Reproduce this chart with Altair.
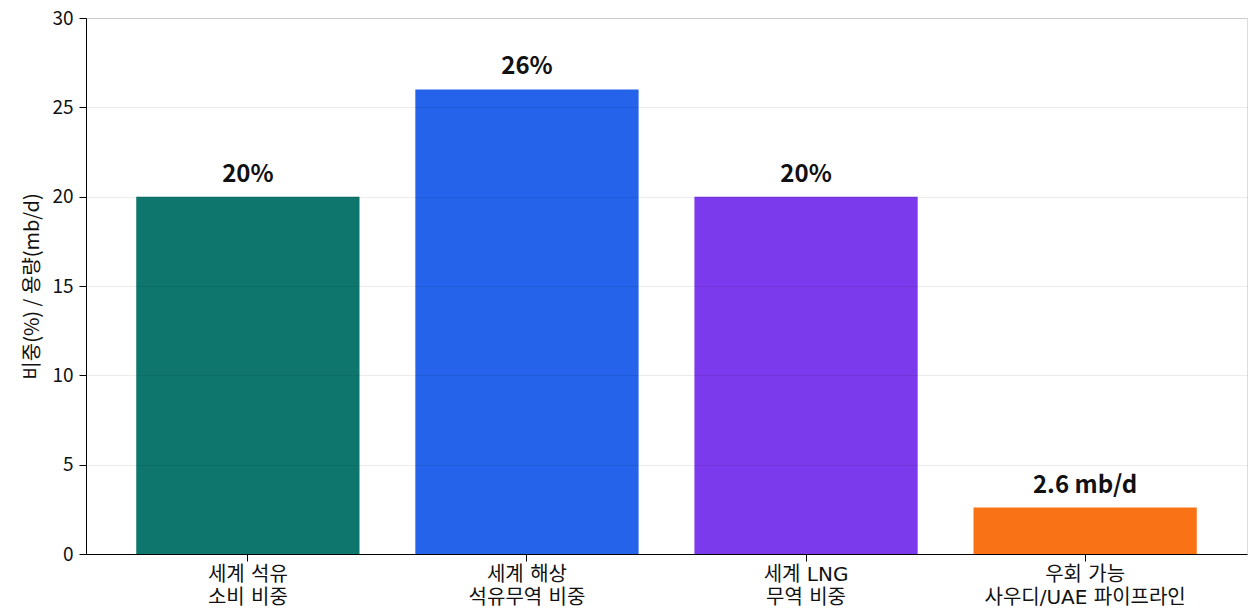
import altair as alt
import pandas as pd

categories = ["세계 석유\n소비 비중", "세계 해상\n석유무역 비중", "세계 LNG\n무역 비중", "우회 가능\n사우디/UAE 파이프라인"]
values = [20, 26, 20, 2.6]
labels = ["20%", "26%", "20%", "2.6 mb/d"]
colors = ["#0f766e", "#2563eb", "#7c3aed", "#f97316"]

df = pd.DataFrame({"cat": categories, "val": values, "label": labels, "color": colors})
FONT = "Noto Sans CJK KR"
XFONT = "DejaVu Sans, Noto Sans CJK KR"

x = alt.X("cat:N", sort=categories, title=None,
          scale=alt.Scale(paddingInner=0.2, paddingOuter=0.18),
          axis=alt.Axis(labelAngle=0, labelExpr="split(datum.label, '\\n')",
                        labelFontSize=20, labelColor="#111", labelLineHeight=23.5,
                        labelPadding=3, labelLimit=0, tickSize=7, tickColor="#000",
                        domainColor="#000", labelFont=XFONT))
y = alt.Y("val:Q", title="비중(%) / 용량(mb/d)",
          scale=alt.Scale(domain=[0, 30], nice=False),
          axis=alt.Axis(values=[0, 5, 10, 15, 20, 25, 30], labelFontSize=19, labelColor="#111",
                        titleFontSize=20, titleFontWeight="normal", titleColor="#111",
                        titlePadding=9, tickSize=7, tickColor="#000", domainColor="#000",
                        grid=True, gridColor="#000", gridOpacity=0.08, zindex=1,
                        labelFont=FONT, titleFont=FONT, labelPadding=6))

base = alt.Chart(df)
bars = base.mark_bar().encode(
    x=x, y=y, color=alt.Color("color:N", scale=None))
text = base.mark_text(dy=-15, baseline="alphabetic", fontSize=24, fontWeight=600,
                      font=FONT, color="#111").encode(
    x=alt.X("cat:N", sort=categories), y="val:Q", text="label:N")

chart = (bars + text).properties(
    width=1161, height=536,
    autosize=alt.AutoSizeParams(type="none"),
    padding={"left": 86, "top": 18, "right": 2, "bottom": 57},
).configure_view(stroke="#000", strokeWidth=1.2).configure(font=FONT)

chart.save("out.html", embed_options={"renderer": "svg", "actions": False})
